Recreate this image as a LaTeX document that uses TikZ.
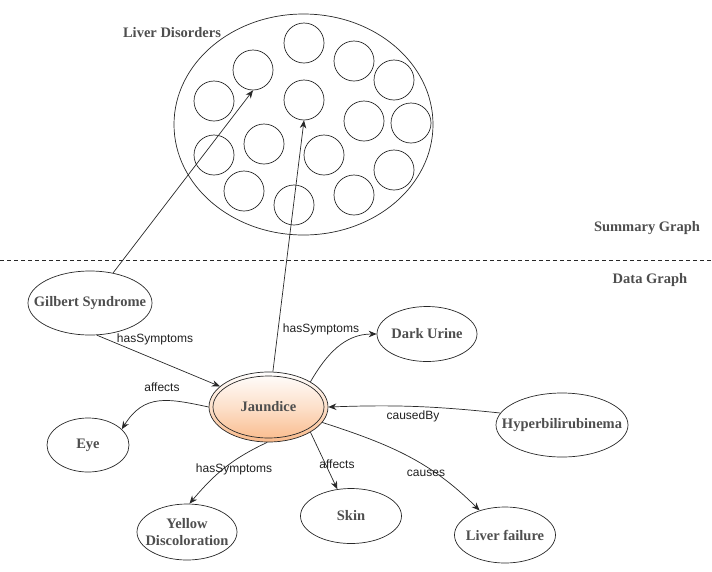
\documentclass[tikz,border=0pt]{standalone}
\usepackage{fontspec}
\setmainfont{Liberation Serif}
\newfontfamily\lblfont{Liberation Sans}
\usetikzlibrary{shapes.geometric,arrows.meta}
\definecolor{txtgray}{RGB}{78,78,78}
\definecolor{linec}{RGB}{40,40,40}
\definecolor{jorange}{RGB}{250,186,138}
\begin{document}
\begin{tikzpicture}[x=1pt,y=-1pt,
  ent/.style={ellipse, draw=linec, line width=0.7pt, inner xsep=-20pt, inner ysep=0pt,
    text=txtgray, font=\fontsize{14.5}{17}\selectfont\bfseries, align=center},
  smallc/.style={circle, draw=linec, line width=0.7pt, minimum size=40pt, inner sep=0pt},
  elab/.style={font=\lblfont\fontsize{12}{14}\selectfont, text=black!88, inner sep=1pt},
  ttl/.style={font=\fontsize{14.5}{17}\selectfont\bfseries, text=txtgray, inner sep=1pt},
  conn/.style={draw=linec, line width=0.7pt, -{Stealth[length=8pt,width=6.5pt]}},
  sepline/.style={draw=linec, line width=0.7pt, dash pattern=on 4pt off 3pt}
]
\useasboundingbox (0,0) rectangle (712,571);

% summary graph
\node[ellipse, draw=linec, line width=0.7pt, minimum width=259pt, minimum height=221pt, inner sep=0pt] (summ) at (303.5,124.5) {};
\node[ttl] (ldlbl) at (172,33) {Liver Disorders};
\node[smallc] (c1) at (304,43) {};
\node[smallc] (c2) at (253,70) {};
\node[smallc] (c3) at (354,61) {};
\node[smallc] (c4) at (394,80) {};
\node[smallc] (c5) at (214,101) {};
\node[smallc] (c6) at (304,100) {};
\node[smallc] (c7) at (364,121) {};
\node[smallc] (c8) at (411,123) {};
\node[smallc] (c9) at (264,144) {};
\node[smallc] (c10) at (214,155) {};
\node[smallc] (c11) at (324,155) {};
\node[smallc] (c12) at (394,170) {};
\node[smallc] (c13) at (244,191) {};
\node[smallc] (c14) at (294,205) {};
\node[smallc] (c15) at (354,195) {};

% separator
\coordinate (dl) at (0,260);
\coordinate (dr) at (712,260);
\draw[sepline] (dl) -- (dr);
\node[ttl] (sumlbl) at (647,228) {Summary Graph};
\node[ttl] (datalbl) at (650,280) {Data Graph};

% data graph
\node[ent, minimum width=124pt, minimum height=64pt] (gilbert) at (90,303) {Gilbert Syndrome};
\node[ent, minimum width=119pt, minimum height=70pt, top color=white, bottom color=jorange, middle color=jorange!45] (jaundice) at (268.5,407) {Jaundice};
\node[ellipse, draw=linec, line width=0.7pt, minimum width=111pt, minimum height=62pt, inner sep=0pt] (jinner) at (jaundice.center) {};
\node[ent, minimum width=100pt, minimum height=55pt] (darkurine) at (427,334) {Dark Urine};
\node[ent, minimum width=132pt, minimum height=64pt] (hyper) at (562,425) {Hyperbilirubinema};
\node[ent, minimum width=82pt, minimum height=54pt] (eye) at (88,445) {Eye};
\node[ent, minimum width=100pt, minimum height=56pt] (yd) at (187,532) {Yellow\\Discoloration};
\node[ent, minimum width=101pt, minimum height=55pt] (skin) at (351,516) {Skin};
\node[ent, minimum width=101pt, minimum height=56pt] (lf) at (505,535) {Liver failure};

% connectors
\draw[conn] (gilbert) -- (c2.south);
\draw[conn] (jaundice) -- (c6.south);
\draw[conn] (gilbert.-78) -- (jaundice.157);
\draw[conn] (jaundice.31) to[out=60,in=180] (darkurine.west);
\draw[conn] (hyper.169) to[bend right=4] (jaundice.east);
\draw[conn] (jaundice.west) to[out=168,in=58,looseness=1.2] (eye.25);
\draw[conn] (jaundice.-92) to[out=205,in=50] (yd.85);
\draw[conn] (jaundice.-31) -- (skin.117);
\draw[conn] (jaundice.-16) to[out=-18,in=135] (lf.136);

% edge labels
\node[elab] (l1) at (155,339) {hasSymptoms};
\node[elab] (l2) at (321,329) {hasSymptoms};
\node[elab] (l3) at (162,387) {affects};
\node[elab] (l4) at (413,416) {causedBy};
\node[elab] (l5) at (234,469) {hasSymptoms};
\node[elab] (l6) at (337,464) {affects};
\node[elab] (l7) at (426,473) {causes};
\end{tikzpicture}
\end{document}
